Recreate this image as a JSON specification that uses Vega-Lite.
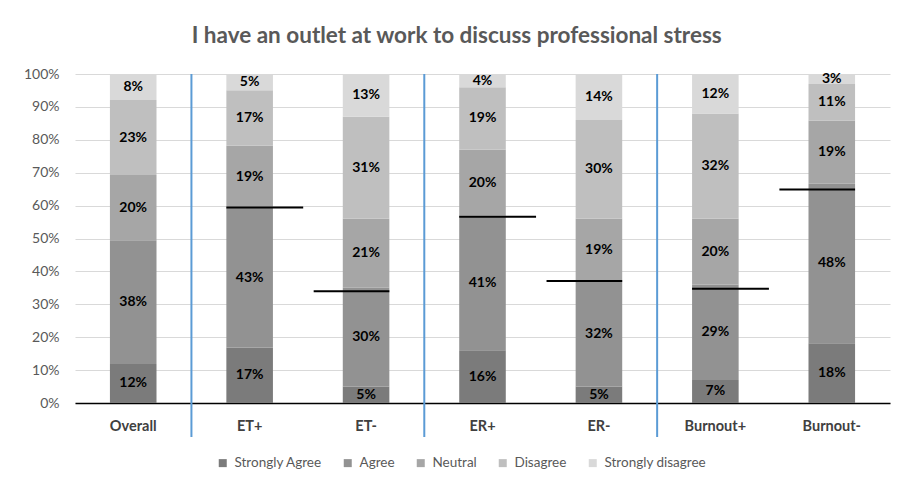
{
  "$schema": "https://vega.github.io/schema/vega-lite/v6.json",
  "width": 815,
  "height": 329,
  "padding": {"left": 23, "top": 24, "right": 20, "bottom": 10},
  "title": {"text": "I have an outlet at work to discuss professional stress", "fontSize": 22.5, "color": "#595959", "font": "Lato", "fontWeight": "bold", "offset": 20, "anchor": "middle", "frame": "bounds"},
  "datasets": {
    "resp": [
      {"cat": "Overall", "resp": "Strongly Agree", "rank": 1, "value": 0.12},
      {"cat": "Overall", "resp": "Agree", "rank": 2, "value": 0.38},
      {"cat": "Overall", "resp": "Neutral", "rank": 3, "value": 0.20},
      {"cat": "Overall", "resp": "Disagree", "rank": 4, "value": 0.23},
      {"cat": "Overall", "resp": "Strongly disagree", "rank": 5, "value": 0.08},
      {"cat": "ET+", "resp": "Strongly Agree", "rank": 1, "value": 0.17},
      {"cat": "ET+", "resp": "Agree", "rank": 2, "value": 0.43},
      {"cat": "ET+", "resp": "Neutral", "rank": 3, "value": 0.19},
      {"cat": "ET+", "resp": "Disagree", "rank": 4, "value": 0.17},
      {"cat": "ET+", "resp": "Strongly disagree", "rank": 5, "value": 0.05},
      {"cat": "ET-", "resp": "Strongly Agree", "rank": 1, "value": 0.05},
      {"cat": "ET-", "resp": "Agree", "rank": 2, "value": 0.30},
      {"cat": "ET-", "resp": "Neutral", "rank": 3, "value": 0.21},
      {"cat": "ET-", "resp": "Disagree", "rank": 4, "value": 0.31},
      {"cat": "ET-", "resp": "Strongly disagree", "rank": 5, "value": 0.13},
      {"cat": "ER+", "resp": "Strongly Agree", "rank": 1, "value": 0.16},
      {"cat": "ER+", "resp": "Agree", "rank": 2, "value": 0.41},
      {"cat": "ER+", "resp": "Neutral", "rank": 3, "value": 0.20},
      {"cat": "ER+", "resp": "Disagree", "rank": 4, "value": 0.19},
      {"cat": "ER+", "resp": "Strongly disagree", "rank": 5, "value": 0.04},
      {"cat": "ER-", "resp": "Strongly Agree", "rank": 1, "value": 0.05},
      {"cat": "ER-", "resp": "Agree", "rank": 2, "value": 0.32},
      {"cat": "ER-", "resp": "Neutral", "rank": 3, "value": 0.19},
      {"cat": "ER-", "resp": "Disagree", "rank": 4, "value": 0.30},
      {"cat": "ER-", "resp": "Strongly disagree", "rank": 5, "value": 0.14},
      {"cat": "Burnout+", "resp": "Strongly Agree", "rank": 1, "value": 0.07},
      {"cat": "Burnout+", "resp": "Agree", "rank": 2, "value": 0.29},
      {"cat": "Burnout+", "resp": "Neutral", "rank": 3, "value": 0.20},
      {"cat": "Burnout+", "resp": "Disagree", "rank": 4, "value": 0.32},
      {"cat": "Burnout+", "resp": "Strongly disagree", "rank": 5, "value": 0.12},
      {"cat": "Burnout-", "resp": "Strongly Agree", "rank": 1, "value": 0.18},
      {"cat": "Burnout-", "resp": "Agree", "rank": 2, "value": 0.48},
      {"cat": "Burnout-", "resp": "Neutral", "rank": 3, "value": 0.19},
      {"cat": "Burnout-", "resp": "Disagree", "rank": 4, "value": 0.11},
      {"cat": "Burnout-", "resp": "Strongly disagree", "rank": 5, "value": 0.03}
    ],
    "thr": [
      {"cat": "ET+", "side": "plus", "value": 0.594},
      {"cat": "ET-", "side": "minus", "value": 0.340},
      {"cat": "ER+", "side": "plus", "value": 0.566},
      {"cat": "ER-", "side": "minus", "value": 0.371},
      {"cat": "Burnout+", "side": "plus", "value": 0.347},
      {"cat": "Burnout-", "side": "minus", "value": 0.649}
    ],
    "sep": [
      {"cat": "ET+"},
      {"cat": "ER+"},
      {"cat": "Burnout+"}
    ]
  },
  "layer": [
    {
      "data": {"name": "resp"},
      "transform": [
        {"stack": "value", "groupby": ["cat"], "sort": [{"field": "rank", "order": "ascending"}], "as": ["y0", "y1"], "offset": "normalize"}
      ],
      "mark": {"type": "bar", "width": {"band": 0.4}},
      "encoding": {
        "x": {"field": "cat", "type": "nominal",
              "scale": {"domain": ["Overall", "ET+", "ET-", "ER+", "ER-", "Burnout+", "Burnout-"], "paddingInner": 0, "paddingOuter": 0},
              "axis": {"title": null, "labelAngle": 0, "domainColor": "#000000", "domainWidth": 1.5, "ticks": false, "labelFontWeight": "bold", "labelColor": "#404040", "labelFontSize": 14.5, "labelPadding": 16, "grid": false}},
        "y": {"field": "y0", "type": "quantitative",
              "scale": {"domain": [0, 1], "nice": false},
              "axis": {"title": null, "format": ".0%", "values": [0, 0.1, 0.2, 0.3, 0.4, 0.5, 0.6, 0.7, 0.8, 0.9, 1], "tickCount": 12, "labelOverlap": false, "domain": false, "ticks": false, "labelColor": "#595959", "labelFontSize": 14, "labelPadding": 16, "gridColor": "#d9d9d9", "gridWidth": 1.2}},
        "y2": {"field": "y1"},
        "color": {"field": "resp", "type": "nominal",
                  "scale": {"domain": ["Strongly Agree", "Agree", "Neutral", "Disagree", "Strongly disagree"], "range": ["#7b7b7b", "#929292", "#a6a6a6", "#bfbfbf", "#d9d9d9"]},
                  "legend": {"title": null, "orient": "none", "legendX": 141, "legendY": 382, "direction": "horizontal", "symbolType": "square", "symbolSize": 64, "symbolStrokeWidth": 0, "labelColor": "#595959", "labelFontSize": 13.5, "columnPadding": 19, "labelOffset": 5}}
      }
    },
    {
      "data": {"name": "resp"},
      "transform": [
        {"stack": "value", "groupby": ["cat"], "sort": [{"field": "rank", "order": "ascending"}], "as": ["y0", "y1"], "offset": "normalize"},
        {"calculate": "(datum.y0 + datum.y1) / 2", "as": "ymid"}
      ],
      "mark": {"type": "text", "fontSize": 14, "fontWeight": "bold", "color": "#000000", "baseline": "middle"},
      "encoding": {
        "x": {"field": "cat", "type": "nominal"},
        "y": {"field": "ymid", "type": "quantitative"},
        "text": {"field": "value", "type": "quantitative", "format": ".0%"}
      }
    },
    {
      "data": {"name": "sep"},
      "mark": {"type": "rule", "color": "#5b9bd5", "strokeWidth": 2},
      "encoding": {
        "x": {"field": "cat", "type": "nominal", "bandPosition": 0},
        "y": {"datum": 1},
        "y2": {"datum": -0.103}
      }
    },
    {
      "data": {"name": "thr"},
      "transform": [{"filter": "datum.side === 'plus'"}],
      "mark": {"type": "rule", "strokeWidth": 2, "color": "#000000"},
      "encoding": {
        "x": {"field": "cat", "type": "nominal", "bandPosition": 0.3},
        "x2": {"field": "cat", "bandPosition": 0.96},
        "y": {"field": "value", "type": "quantitative"}
      }
    },
    {
      "data": {"name": "thr"},
      "transform": [{"filter": "datum.side === 'minus'"}],
      "mark": {"type": "rule", "strokeWidth": 2, "color": "#000000"},
      "encoding": {
        "x": {"field": "cat", "type": "nominal", "bandPosition": 0.05},
        "x2": {"field": "cat", "bandPosition": 0.7},
        "y": {"field": "value", "type": "quantitative"}
      }
    }
  ],
  "config": {
    "font": "Lato",
    "view": {"stroke": null},
    "axis": {"labelFont": "Lato"},
    "legend": {"labelFont": "Lato"}
  }
}
